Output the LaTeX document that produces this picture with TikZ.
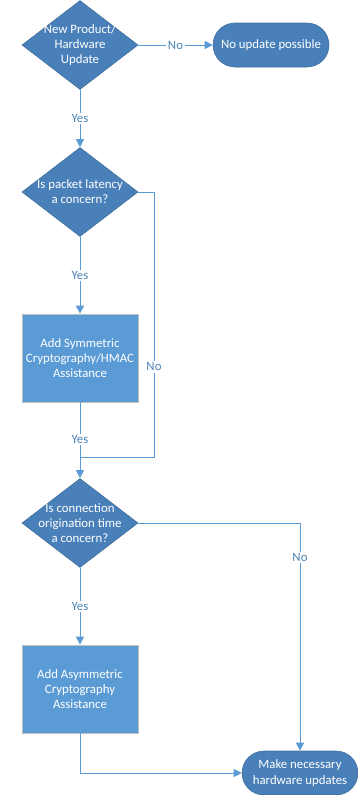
\documentclass[tikz,border=0pt]{standalone}
\usepackage{fontspec}
\setmainfont{Carlito}
\usepackage{tikz}
\usetikzlibrary{shapes.geometric, arrows.meta}
\definecolor{flowblue}{HTML}{5B9BD5}
\definecolor{darkflow}{HTML}{4A80B9}
\definecolor{edgeblue}{HTML}{41719C}
\tikzset{every node/.append style={font=\fontsize{12.8}{15.2}\selectfont}}
\tikzset{
    decision/.style={diamond, draw=edgeblue, fill=darkflow, line width=0.6pt,
        minimum width=116pt, minimum height=89pt, inner sep=0pt},
    dtext/.style={text=white, align=center},
    process/.style={rectangle, draw=black!25, fill=flowblue, line width=0.8pt,
        minimum width=116pt, minimum height=88pt, text=white, align=center},
    terminal/.style={rectangle, rounded corners=22pt, draw=edgeblue, fill=darkflow,
        line width=0.6pt, minimum width=116pt, minimum height=44pt, text=white, align=center},
    line/.style={draw=flowblue, line width=1pt},
    flow/.style={line, -{Triangle[length=8pt, width=8pt]}},
    lbl/.style={fill=white, text=flowblue!85!black, inner sep=1.5pt}
}

\begin{document}
\begin{tikzpicture}[x=1pt, y=-1pt]
    \useasboundingbox (0,0) rectangle (358,795);
    % decisions and steps
    \node[decision] (newhw) at (80,45) {};
    \node[dtext] (newhwt) at (newhw) {New Product/\\Hardware\\Update};
    \node[terminal] (noupd) at (271,45) {No update possible};
    \node[decision] (latency) at (80,192) {};
    \node[dtext] (latencyt) at (latency) {Is packet latency\\a concern?};
    \node[process] (symm) at (80,358) {Add Symmetric\\Cryptography/HMAC\\Assistance};
    \node[decision] (orig) at (80,523) {};
    \node[dtext] (origt) at (orig) {Is connection\\origination time\\a concern?};
    \node[process] (asymm) at (80,689) {Add Asymmetric\\Cryptography\\Assistance};
    \node[terminal] (hwupd) at (300,773) {Make necessary\\hardware updates};
    \coordinate (bypass) at (154,457);
    \coordinate (join) at (80,457);

    % connectors
    \draw[flow] (newhw.east) -- node[lbl] {No} (noupd.west);
    \draw[flow] (newhw.south) -- node[lbl] {Yes} (latency.north);
    \draw[flow] (latency.south) -- node[lbl] {Yes} (symm.north);
    \draw[line] (latency.east) -| node[lbl, pos=0.83] {No} (bypass) -- (join);
    \draw[flow] (symm.south) -- node[lbl, pos=0.49] {Yes} (orig.north);
    \draw[flow] (orig.east) -| node[lbl, pos=0.575] {No} (hwupd.north);
    \draw[flow] (orig.south) -- node[lbl] {Yes} (asymm.north);
    \draw[flow] (asymm.south) |- (hwupd.west);
\end{tikzpicture}
\end{document}
